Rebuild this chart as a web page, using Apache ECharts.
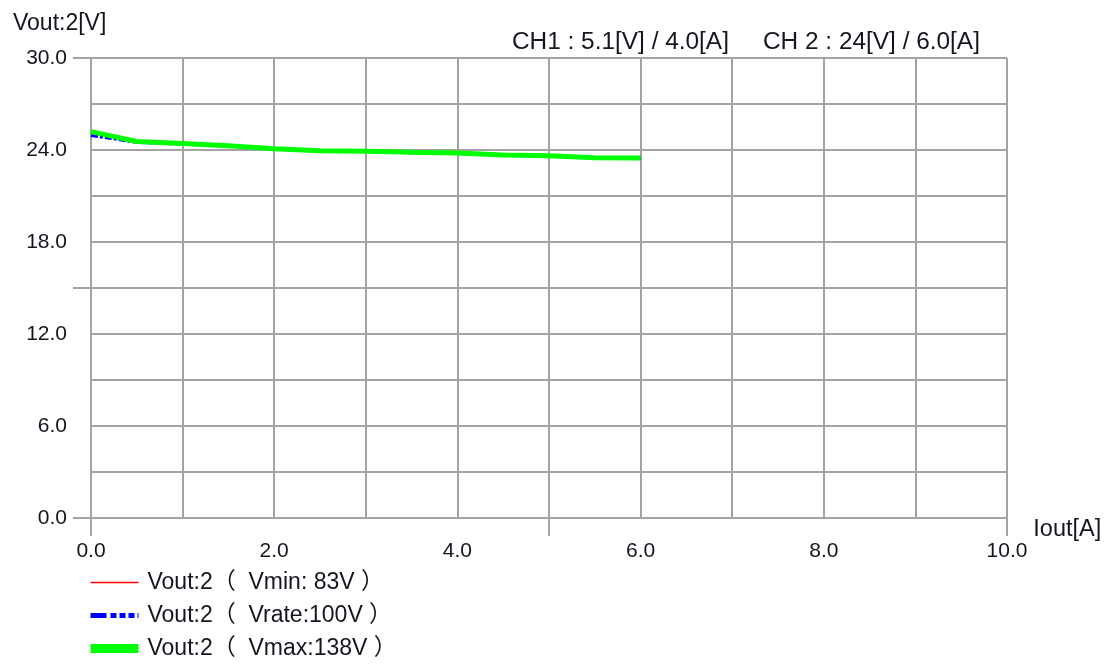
<!DOCTYPE html>
<html>
<head>
<meta charset="utf-8">
<script src="https://cdn.jsdelivr.net/npm/echarts@6/dist/echarts.min.js"></script>
<style>html,body{margin:0;padding:0;background:#fff}#c{width:1107px;height:664px}</style>
</head>
<body>
<div id="c"></div>
<script>
const iout = [0, 0.5, 1, 1.5, 2, 2.5, 3, 3.5, 4, 4.5, 5, 5.5, 6];
const voutMin = [25.1, 24.52, 24.4, 24.26, 24.06, 23.93, 23.9, 23.83, 23.78, 23.66, 23.6, 23.48, 23.46];
const voutRate = [24.95, 24.5, 24.38, 24.25, 24.05, 23.92, 23.9, 23.82, 23.77, 23.65, 23.6, 23.47, 23.45];
const voutMax = [25.2, 24.55, 24.42, 24.28, 24.08, 23.95, 23.92, 23.85, 23.8, 23.68, 23.62, 23.5, 23.48];
const seriesNames = ['Vout:2（  Vmin: 83V ）', 'Vout:2（  Vrate:100V ）', 'Vout:2（  Vmax:138V ）'];
const yTitle = 'Vout:2[V]';
const xTitle = 'Iout[A]';
const note1 = 'CH1 : 5.1[V] / 4.0[A]';
const note2 = 'CH 2 : 24[V] / 6.0[A]';

const FONT = '"Liberation Sans", Arial, "Noto Sans CJK JP", sans-serif';
const TXT = '#15151f';
const GRID = '#a3a3a3';
const pair = (xs, ys) => xs.map((x, i) => [x, ys[i]]);

const chart = echarts.init(document.getElementById('c'));
chart.setOption({
  animation: false,
  textStyle: { fontFamily: FONT },
  title: [
    { text: yTitle, left: 8, top: 7, textStyle: { fontSize: 23, fontWeight: 'normal', color: TXT, fontFamily: FONT } },
    { text: note1, left: 507, top: 25, textStyle: { fontSize: 24.4, fontWeight: 'normal', color: TXT, fontFamily: FONT } },
    { text: note2, left: 758, top: 25, textStyle: { fontSize: 24.4, fontWeight: 'normal', color: TXT, fontFamily: FONT } }
  ],
  grid: { left: 91, right: 100, top: 58, bottom: 146, containLabel: false },
  xAxis: [
    {
      type: 'value', min: 0, max: 10, interval: 1,
      name: xTitle, nameLocation: 'end', nameGap: 22,
      nameTextStyle: { fontSize: 23.5, color: TXT, verticalAlign: 'top', padding: [0, 0, 0, 0], fontFamily: FONT },
      axisLine: { show: true, lineStyle: { color: GRID, width: 2 } },
      axisTick: { show: false },
      axisLabel: { margin: 23, fontSize: 21, color: TXT, fontFamily: FONT,
        formatter: v => (Math.round(v) % 2 === 0 ? v.toFixed(1) : '') },
      splitLine: { show: true, lineStyle: { color: GRID, width: 2 } }
    },
    {
      type: 'value', min: 0, max: 10, interval: 5, position: 'bottom',
      axisLine: { show: false },
      axisTick: { show: true, length: 18, lineStyle: { color: GRID, width: 2 } },
      axisLabel: { show: false }, splitLine: { show: false }
    }
  ],
  yAxis: [
    {
      type: 'value', min: 0, max: 30, interval: 3,
      axisLine: { show: true, lineStyle: { color: GRID, width: 2 } },
      axisTick: { show: false },
      axisLabel: { margin: 24, fontSize: 21, color: TXT, fontFamily: FONT,
        formatter: v => (Math.round(v) % 6 === 0 ? v.toFixed(1) : '') },
      splitLine: { show: true, lineStyle: { color: GRID, width: 2 } }
    },
    {
      type: 'value', min: 0, max: 30, interval: 15, position: 'left',
      axisLine: { show: false },
      axisTick: { show: true, length: 18, lineStyle: { color: GRID, width: 2 } },
      axisLabel: { show: false }, splitLine: { show: false }
    }
  ],
  legend: {
    orient: 'vertical', left: 86, top: 571, padding: 0, itemWidth: 48, itemHeight: 14, itemGap: 10,
    itemStyle: { opacity: 0 },
    textStyle: { fontSize: 23, color: TXT, fontFamily: FONT, padding: [0, 0, 0, 4] },
    data: [
      { name: seriesNames[0], lineStyle: { width: 1.5 } },
      { name: seriesNames[1], lineStyle: { width: 5, type: [16, 4, 6, 3, 6, 3, 6, 3] } },
      { name: seriesNames[2], lineStyle: { width: 9 } }
    ]
  },
  series: [
    { name: seriesNames[0], type: 'line', data: pair(iout, voutMin), showSymbol: false, symbol: 'none',
      lineStyle: { color: '#ff0000', width: 1 }, itemStyle: { color: '#ff0000' } },
    { name: seriesNames[1], type: 'line', data: pair(iout, voutRate), showSymbol: false, symbol: 'none',
      lineStyle: { color: '#0000ff', width: 3, type: [7, 2, 3, 2] }, itemStyle: { color: '#0000ff' } },
    { name: seriesNames[2], type: 'line', data: pair(iout, voutMax), showSymbol: false, symbol: 'none',
      lineStyle: { color: '#00ff00', width: 5 }, itemStyle: { color: '#00ff00' } }
  ]
});
</script>
</body>
</html>
